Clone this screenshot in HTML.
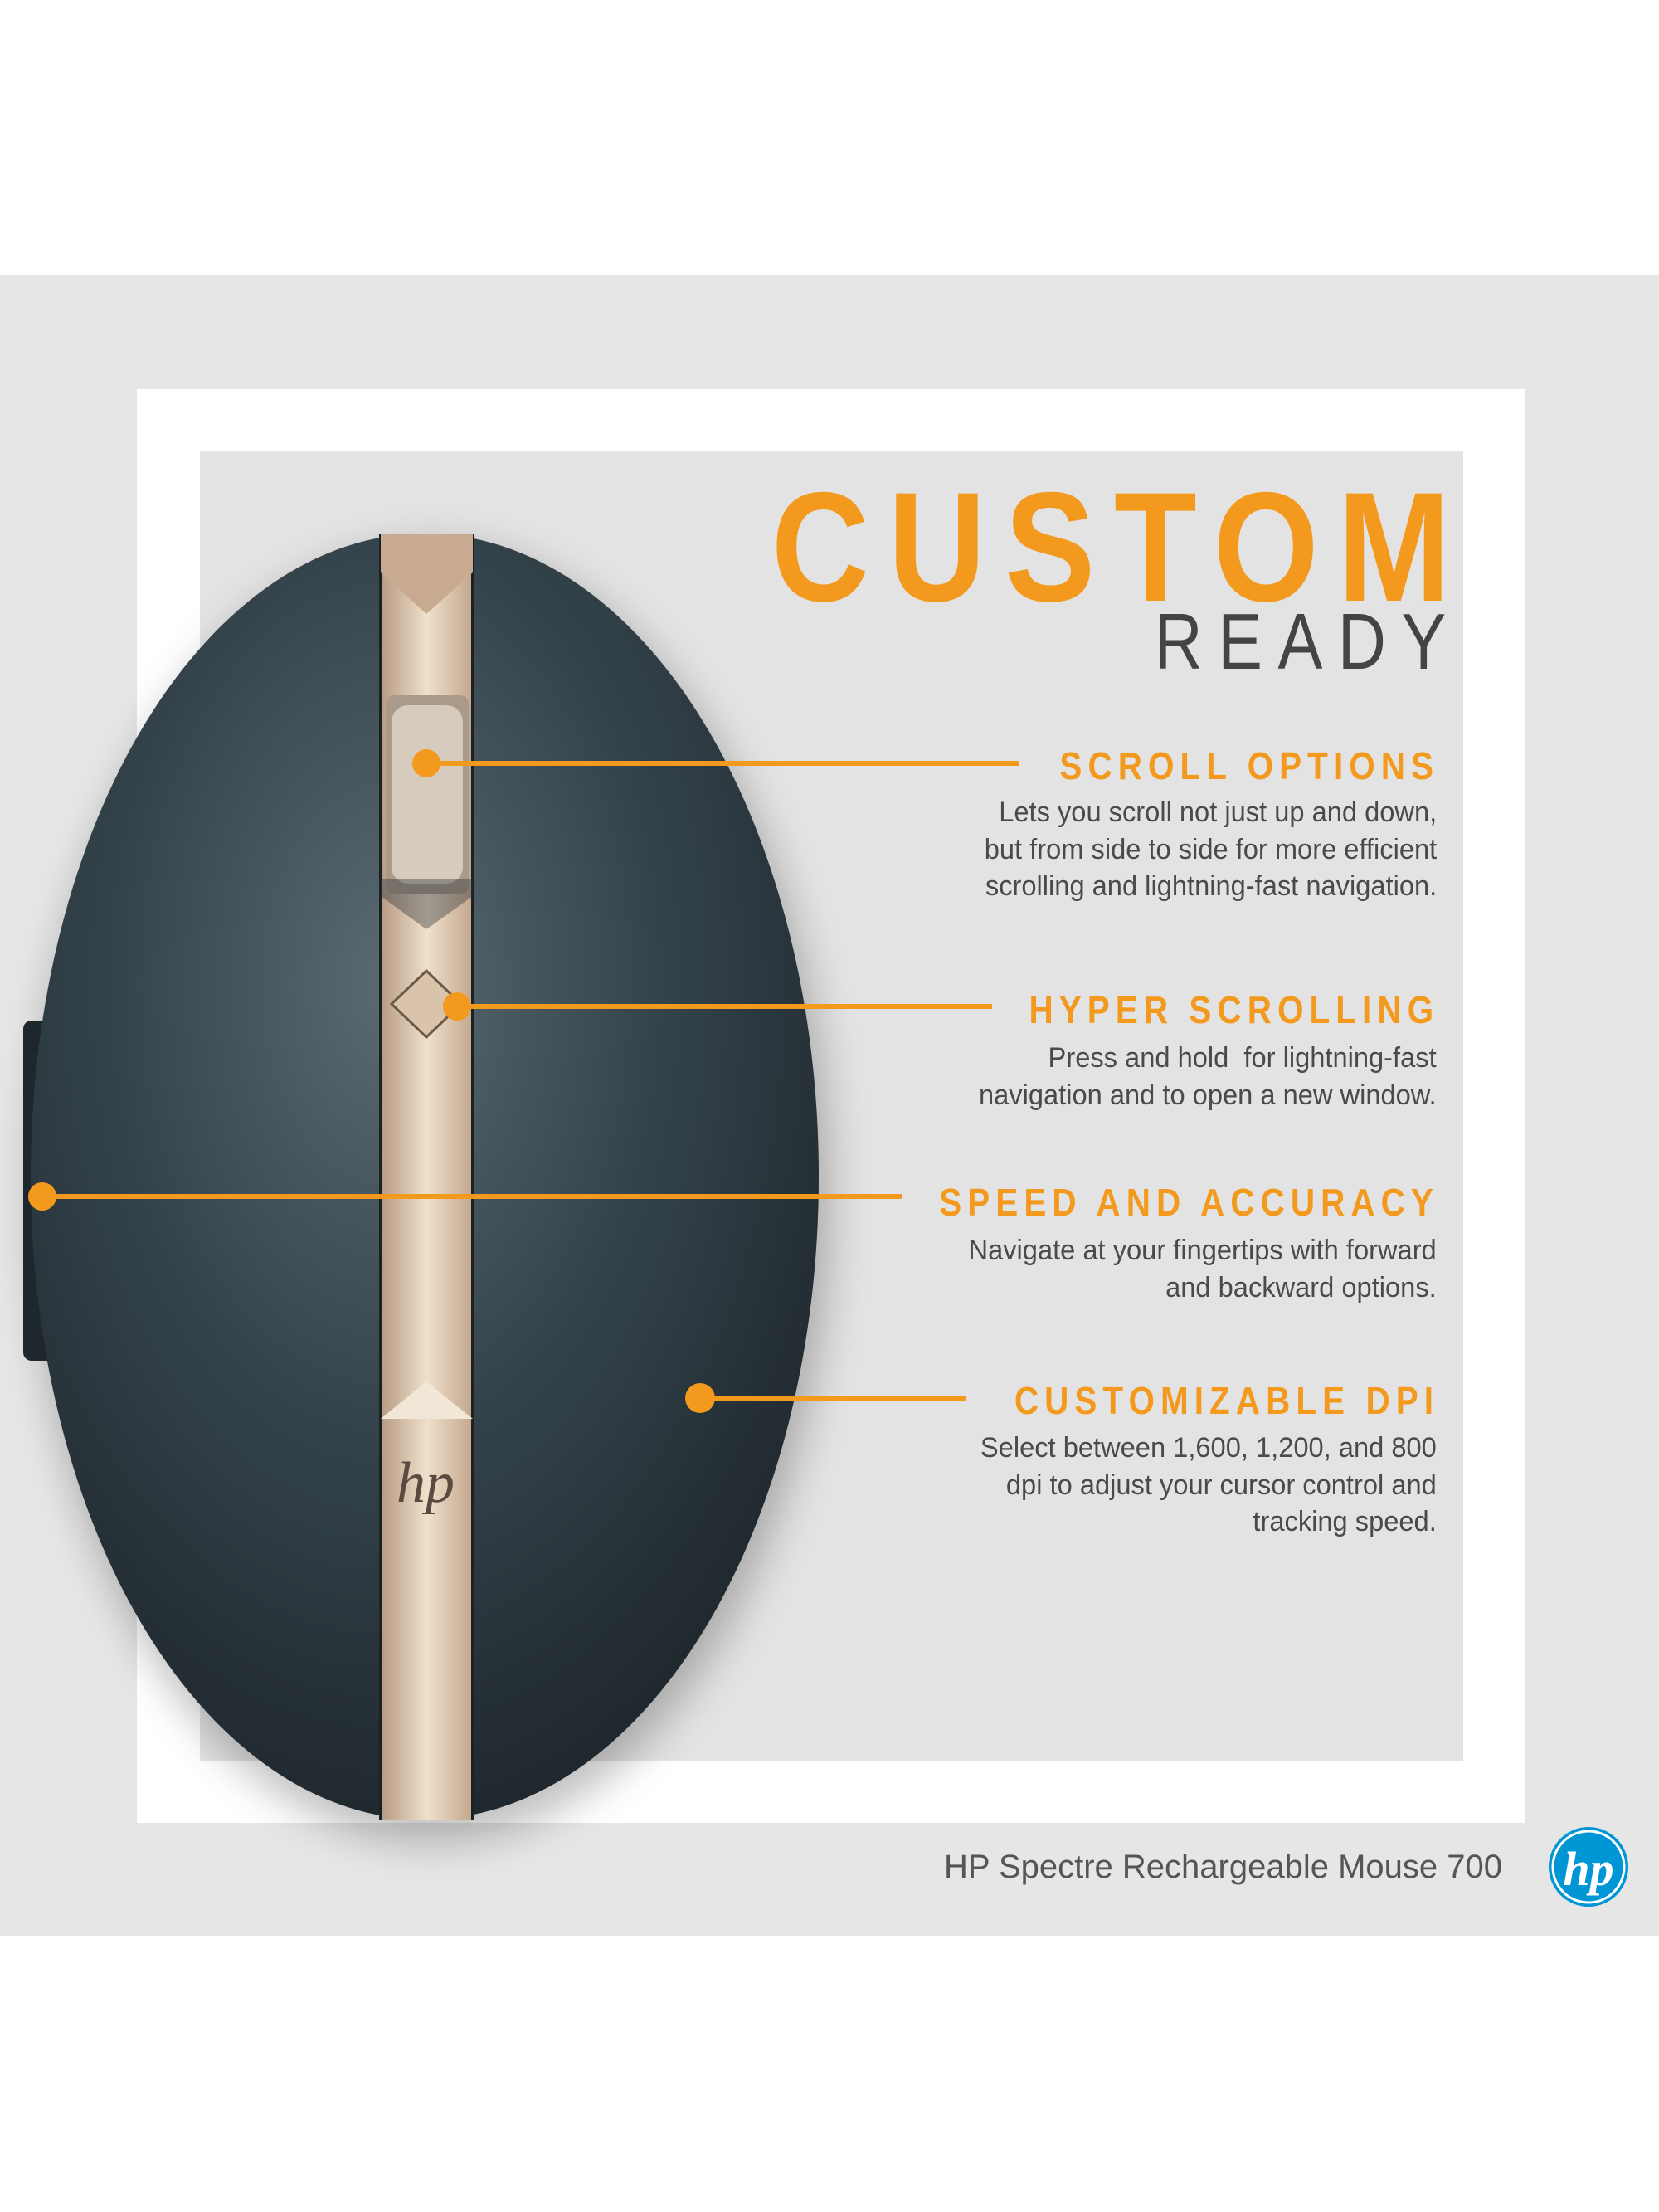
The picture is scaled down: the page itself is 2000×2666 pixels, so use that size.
<!DOCTYPE html>
<html><head><meta charset="utf-8"><style>
html,body{margin:0;padding:0;background:#fff}
#c{position:relative;width:2000px;height:2666px;overflow:hidden;font-family:"Liberation Sans",sans-serif}
.a{position:absolute}
.h{position:absolute;right:265px;color:#f39a1e;font-weight:bold;font-size:46px;letter-spacing:8px;white-space:nowrap;line-height:1;transform:scaleX(0.88);transform-origin:right center}
.b{position:absolute;right:268px;text-align:right;color:#4a4a4a;font-size:34px;line-height:44.5px;white-space:nowrap;transform:scaleX(0.96);transform-origin:right center}
</style></head><body><div id="c">
<div class="a" style="left:0;top:332px;width:2000px;height:2001px;background:#e6e6e6"></div>
<div class="a" style="left:165px;top:469px;width:1673px;height:1728px;background:#fff"></div>
<div class="a" style="left:241px;top:544px;width:1523px;height:1578px;background:#e3e3e3"></div>
<svg class="a" style="left:0;top:0" width="2000" height="2666">
<defs>
<radialGradient id="m" cx="0.45" cy="0.35" r="0.7">
<stop offset="0" stop-color="#5a6a72"/><stop offset="0.5" stop-color="#34434b"/><stop offset="1" stop-color="#1c2429"/></radialGradient>
<linearGradient id="g" x1="0" x2="1"><stop offset="0" stop-color="#b89a82"/><stop offset="0.5" stop-color="#efe0cc"/><stop offset="1" stop-color="#c4a68c"/></linearGradient>
<filter id="s"><feGaussianBlur stdDeviation="25"/></filter>
</defs>
<ellipse cx="520" cy="1440" rx="480" ry="780" fill="#000" opacity="0.25" filter="url(#s)"/>
<rect x="28" y="1230" width="40" height="410" rx="10" fill="#1e272c"/>
<ellipse cx="512" cy="1418" rx="475" ry="775" fill="url(#m)"/>
<rect x="459" y="643" width="111" height="1550" fill="url(#g)"/>
<rect x="457" y="643" width="4" height="1550" fill="#1a2226"/>
<rect x="568" y="643" width="4" height="1550" fill="#1a2226"/>
<polygon points="459,643 570,643 570,690 514,740 459,690" fill="#c8aa90"/>
<rect x="465" y="838" width="100" height="240" rx="10" fill="#a99a8a"/>
<rect x="472" y="850" width="86" height="215" rx="20" fill="#d6cbbc"/>
<polygon points="459,1080 514,1120 570,1080 570,1060 459,1060" fill="#2a3338" opacity="0.4"/>
<polygon points="514,1170 556,1210 514,1250 472,1210" fill="#d9c3aa" stroke="#6b5a4c" stroke-width="3"/>
<polygon points="459,1710 514,1665 570,1710" fill="#f2e6d6"/>
<text x="478" y="1810" font-size="70" font-style="italic" fill="#5a4a3f" font-family="Liberation Serif,serif">hp</text>
<g fill="#f39a1e" stroke="#f39a1e" stroke-width="6">
<line x1="514" y1="920" x2="1228" y2="920"/><circle cx="514" cy="920" r="17" stroke="none"/>
<line x1="551" y1="1213" x2="1196" y2="1213"/><circle cx="551" cy="1213" r="17" stroke="none"/>
<line x1="51" y1="1442" x2="1088" y2="1442"/><circle cx="51" cy="1442" r="17" stroke="none"/>
<line x1="844" y1="1685" x2="1165" y2="1685"/><circle cx="844" cy="1685" r="18" stroke="none"/>
</g>
<circle cx="1915" cy="2250" r="48" fill="#0096d6"/>
<circle cx="1915" cy="2250" r="43" fill="none" stroke="#fff" stroke-width="3"/>
<text x="1915" y="2272" text-anchor="middle" font-size="58" font-style="italic" font-weight="bold" fill="#fff" font-family="Liberation Serif,serif">hp</text>
</svg>
<div class="a" style="right:255px;top:565px;font-size:188px;font-weight:bold;color:#f39a1e;letter-spacing:26px;line-height:1;margin-right:-26px;transform:scaleX(0.87);transform-origin:right center">CUSTOM</div>
<div class="a" style="right:260px;top:726px;font-size:96px;color:#444;letter-spacing:22px;line-height:1;margin-right:-22px;transform:scaleX(0.84);transform-origin:right center">READY</div>
<div class="h" style="top:900px">SCROLL OPTIONS</div>
<div class="b" style="top:957px">Lets you scroll not just up and down,<br>but from side to side for more efficient<br>scrolling and lightning-fast navigation.</div>
<div class="h" style="top:1194px">HYPER SCROLLING</div>
<div class="b" style="top:1253px">Press and hold&nbsp; for lightning-fast<br>navigation and to open a new window.</div>
<div class="h" style="top:1426px">SPEED AND ACCURACY</div>
<div class="b" style="top:1485px">Navigate at your fingertips with forward<br>and backward options.</div>
<div class="h" style="top:1665px">CUSTOMIZABLE DPI</div>
<div class="b" style="top:1723px">Select between 1,600, 1,200, and 800<br>dpi to adjust your cursor control and<br>tracking speed.</div>
<div class="a" style="right:189px;top:2228px;font-size:40px;color:#555;white-space:nowrap">HP Spectre Rechargeable Mouse 700</div>
</div></body></html>
